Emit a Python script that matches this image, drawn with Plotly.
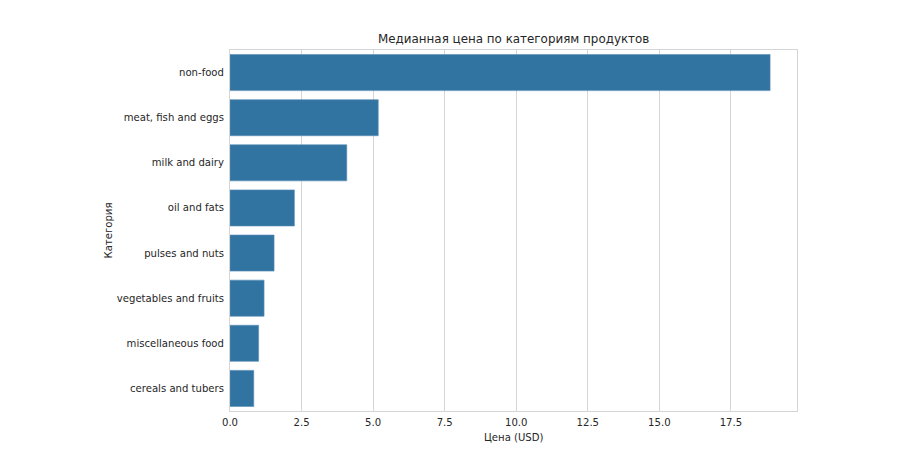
import plotly.graph_objects as go

categories = ["non-food", "meat, fish and eggs", "milk and dairy", "oil and fats",
              "pulses and nuts", "vegetables and fruits", "miscellaneous food",
              "cereals and tubers"]
median_price = [18.87, 5.18, 4.08, 2.25, 1.54, 1.19, 1.00, 0.83]
x_ticks = [0.0, 2.5, 5.0, 7.5, 10.0, 12.5, 15.0, 17.5]
x_tick_labels = ["0.0", "2.5", "5.0", "7.5", "10.0", "12.5", "15.0", "17.5"]

title_text = "Медианная цена по категориям продуктов"
x_title = "Цена (USD)"
y_title = "Категория"

font_family = "DejaVu Sans"
text_color = "#262626"
grid_color = "#d5d5d5"

fig = go.Figure()
fig.add_trace(go.Bar(
    x=median_price,
    y=categories,
    orientation="h",
    width=0.8,
    marker=dict(color="#3274a1", line=dict(color="#5b8fb9", width=0.6)),
    showlegend=False,
    hoverinfo="x+y",
))

fig.update_layout(
    width=900, height=459,
    margin=dict(l=222, r=111, t=42, b=56),
    paper_bgcolor="white",
    plot_bgcolor="white",
    font=dict(family=font_family, size=10.1, color=text_color),
    bargap=0.2,
    xaxis=dict(
        range=[0, 19.81],
        tickvals=x_ticks,
        ticktext=x_tick_labels,
        showgrid=True,
        gridcolor=grid_color,
        gridwidth=1,
        zeroline=False,
        showline=True,
        linecolor=grid_color,
        linewidth=1,
        mirror=True,
        ticks="",
        ticklabelstandoff=2,
        tickfont=dict(family=font_family, size=10.1, color=text_color),
    ),
    yaxis=dict(
        range=[7.5, -0.5],
        categoryorder="array",
        categoryarray=categories,
        showgrid=False,
        zeroline=False,
        showline=True,
        linecolor=grid_color,
        linewidth=1,
        mirror=True,
        ticks="",
        ticklabelstandoff=3,
        tickfont=dict(family=font_family, size=10.1, color=text_color),
    ),
    annotations=[
        dict(text=title_text, xref="paper", yref="paper", x=0.5, y=1.0,
             xanchor="center", yanchor="bottom", yshift=2, showarrow=False,
             font=dict(family=font_family, size=11.9, color=text_color)),
        dict(text=x_title, xref="paper", yref="paper", x=0.5, y=0.0,
             xanchor="center", yanchor="top", yshift=-19, showarrow=False,
             font=dict(family=font_family, size=10.1, color=text_color)),
        dict(text=y_title, xref="paper", yref="paper", x=0.0, y=0.5,
             xanchor="center", yanchor="middle", xshift=-122, textangle=-90,
             showarrow=False,
             font=dict(family=font_family, size=10.1, color=text_color)),
    ],
)

fig.write_html("out.html")
